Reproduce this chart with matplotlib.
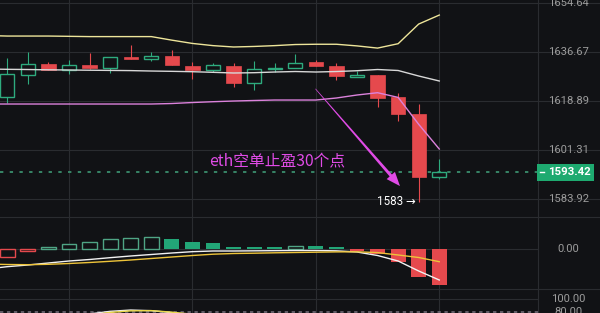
import numpy as np
import matplotlib
matplotlib.use("Agg")
import matplotlib.pyplot as plt
from matplotlib.patches import Rectangle, Polygon
from matplotlib.lines import Line2D
from matplotlib.ticker import NullLocator
from matplotlib.transforms import blended_transform_factory

# ---------------- ETH/USDT 15m candles ----------------
opens  = [1620.23, 1628.19, 1632.30, 1630.12, 1631.93, 1630.73, 1634.85, 1634.23,
          1635.21, 1631.68, 1629.94, 1631.68, 1625.58, 1630.37, 1630.73, 1632.92,
          1631.57, 1627.58, 1628.19, 1620.23, 1614.21, 1591.60]
highs  = [1634.48, 1636.78, 1633.03, 1633.65, 1636.41, 1634.74, 1639.23, 1636.78,
          1637.40, 1633.03, 1632.77, 1632.66, 1633.39, 1632.77, 1635.83, 1633.75,
          1632.77, 1629.86, 1628.19, 1621.85, 1617.81, 1597.98]
lows   = [1618.17, 1624.93, 1630.12, 1628.67, 1630.48, 1629.14, 1634.12, 1633.39,
          1631.82, 1626.74, 1629.50, 1624.06, 1622.87, 1629.39, 1630.73, 1631.46,
          1626.49, 1627.58, 1616.84, 1611.80, 1583.00, 1591.00]
closes = [1628.67, 1632.30, 1630.12, 1631.93, 1630.95, 1634.74, 1634.12, 1635.21,
          1631.82, 1629.94, 1632.12, 1625.47, 1630.48, 1630.95, 1632.77, 1631.46,
          1627.94, 1628.19, 1620.09, 1614.10, 1591.60, 1593.42]

# indicator series start one bar before the first visible candle
boll_upper = [1642.7, 1642.5, 1642.5, 1642.5, 1642.4, 1642.3, 1642.3, 1642.3,
              1642.3, 1641.0, 1639.8, 1639.0, 1638.5, 1638.7, 1639.0, 1639.4,
              1639.5, 1639.5, 1638.9, 1638.1, 1639.7, 1646.9, 1650.2]
boll_mid   = [1630.48, 1630.37, 1630.30, 1630.19, 1630.12, 1630.04, 1629.97, 1629.90,
              1629.75, 1629.64, 1629.50, 1629.28, 1629.03, 1629.14, 1629.39, 1629.57,
              1629.39, 1629.57, 1629.86, 1630.30, 1629.94, 1627.94, 1626.13]
boll_lower = [1617.81, 1617.81, 1617.81, 1617.81, 1617.81, 1617.81, 1617.81, 1617.81,
              1617.81, 1617.99, 1618.35, 1618.64, 1618.89, 1619.08, 1619.25, 1619.25,
              1619.25, 1619.98, 1621.06, 1621.89, 1620.20, 1610.50, 1601.67]

macd_dif  = [-6.0, -5.3, -4.8, -4.2, -3.6, -3.15, -2.6, -2.1, -1.65, -1.2, -0.8, -0.6,
             -0.6, -0.55, -0.5, -0.45, -0.45, -0.55, -0.9, -1.95, -3.6, -6.6, -9.3]
macd_dea  = [-4.5, -4.65, -4.71, -4.59, -4.35, -4.05, -3.69, -3.3, -2.85, -2.4, -1.95,
             -1.56, -1.35, -1.26, -1.14, -1.05, -0.96, -0.87, -0.84, -1.08, -1.8,
             -2.55, -3.81]
macd_hist = [-3.2, -2.4, -0.6, 0.6, 1.4, 2.0, 2.9, 3.3, 3.5, 2.9, 2.0, 1.7, 0.6, 0.6,
             0.6, 0.9, 0.9, 0.6, -0.6, -1.5, -3.8, -8.5, -10.8]

kdj_k = [55, 58, 62, 66, 72, 77.5, 81.5, 83.5, 82.5, 79.5, 74, 68, 62, 58, 56, 55,
         54, 50, 42, 30, 18, 9, 12]
kdj_d = [52, 54, 57, 61, 70, 75.5, 79.8, 82.2, 82.6, 80.2, 77, 71, 66, 61, 58, 56,
         55, 53, 48, 40, 30, 20, 15]

price_ticks = [1654.64, 1636.67, 1618.89, 1601.31, 1583.92]
time_grid = [3, 9, 15, 21]
note_text = "eth空单止盈30个点"

# ---------------- styling / layout ----------------
W, H, DPI = 600, 313, 100
BG = "#111215"
GRID = "#2a2c30"
GREEN = "#2eab7e"
GREEN_FILL = "#22a677"
RED = "#e5494d"
LABEL = "#9c9c9c"
MAGENTA = "#e04be6"

X0_PX, STEP_PX = 7.3, 20.57
PLOT_RIGHT_PX = 537.7
LABEL_CX = 568.5 / W
XLIM = (-X0_PX / STEP_PX, (W - X0_PX) / STEP_PX)
BORDER_X = (PLOT_RIGHT_PX - X0_PX) / STEP_PX
PANEL_FRAC = PLOT_RIGHT_PX / W

plt.rcParams["font.family"] = ["Roboto", "DejaVu Sans"]

fig = plt.figure(figsize=(W / DPI, H / DPI), dpi=DPI)
fig.patch.set_facecolor(BG)


def panel(top_px, bottom_px):
    ax = fig.add_axes([0, 1 - bottom_px / H, 1, (bottom_px - top_px) / H])
    ax.set_facecolor(BG)
    ax.set_xlim(*XLIM)
    for s in ax.spines.values():
        s.set_visible(False)
    for t in time_grid:
        ax.axvline(t, color=GRID, lw=0.8, zorder=0)
    ax.axvline(BORDER_X, color=GRID, lw=0.8, zorder=0)
    return ax


def clear_ticks(ax):
    ax.xaxis.set_major_locator(NullLocator())
    ax.xaxis.set_minor_locator(NullLocator())
    ax.yaxis.set_major_locator(NullLocator())
    ax.yaxis.set_minor_locator(NullLocator())


def axis_label(ax, value, text, **kw):
    tr = blended_transform_factory(ax.transAxes, ax.transData)
    ax.text(LABEL_CX, value, text, transform=tr, ha="center", va="center",
            fontsize=8.1, color=LABEL, zorder=6, **kw)


xc = np.arange(len(opens))
xi = np.arange(-1, len(opens))

# ---------------- main price panel ----------------
ax = panel(0, 216.5)
ax.set_yscale("log")
ax.set_ylim(1577.76, 1655.75)
clear_ticks(ax)
for v in price_ticks:
    ax.axhline(v, color=GRID, lw=0.8, zorder=0)
    axis_label(ax, v, f"{v:.2f}")

W_BODY = 0.70
for i in xc:
    o, h, l, c = opens[i], highs[i], lows[i], closes[i]
    up = c >= o
    col = GREEN if up else RED
    ax.vlines(i, l, h, color=col, lw=0.8, zorder=2)
    lo, hi = min(o, c), max(o, c)
    if up:
        ax.add_patch(Rectangle((i - W_BODY / 2, lo), W_BODY, hi - lo,
                               facecolor=BG, edgecolor=col, lw=1.0, zorder=3))
    else:
        ax.add_patch(Rectangle((i - W_BODY / 2, lo), W_BODY, hi - lo,
                               facecolor=col, edgecolor=col, lw=0.5, zorder=3))

ax.plot(xi, boll_upper, color="#eee59a", lw=1.0, zorder=4)
ax.plot(xi, boll_mid, color="#d8d8d8", lw=1.0, zorder=4)
ax.plot(xi, boll_lower, color="#dc82dc", lw=1.0, zorder=4)

# last-price dashed line
last = closes[-1]
ax.plot([XLIM[0], BORDER_X], [last, last], color="#3b8f6d", lw=1.3,
        linestyle=(0, (2.4 / 1.3, 4.6 / 1.3)), zorder=1)

# lowest print marker
i_low = int(np.argmin(lows))
ax.text(i_low - 0.15, lows[i_low], f"{lows[i_low]:.0f} →", ha="right", va="center",
        fontsize=8.4, color="white", zorder=6)

# note and arrow
ax.text(9.8, 1597.2, note_text, ha="left", va="center", fontsize=11.3,
        color=MAGENTA, family=["Noto Sans CJK SC", "DejaVu Sans"], zorder=6)


def tapered_arrow(ax, xy_from, xy_to, color, w0=0.6, w1=3.0, head_len=14.0,
                  head_half=5.5):
    p0 = ax.transData.transform(xy_from)
    p1 = ax.transData.transform(xy_to)
    d = p1 - p0
    u = d / np.hypot(*d)
    n = np.array([-u[1], u[0]])
    base = p1 - u * head_len
    pts = np.array([p0 + n * w0 / 2, base + n * w1 / 2, base + n * head_half, p1,
                    base - n * head_half, base - n * w1 / 2, p0 - n * w0 / 2])
    ax.add_patch(Polygon(ax.transData.inverted().transform(pts), closed=True,
                         facecolor=color, edgecolor="none", zorder=6))


tapered_arrow(ax, (14.98, 1623.3), (19.09, 1588.5), MAGENTA)

# ---------------- MACD panel ----------------
axm = panel(216.5, 289.3)
axm.set_ylim(-12.09, 9.75)
clear_ticks(axm)
axm.plot([XLIM[0], BORDER_X], [0, 0], color=GRID, lw=0.8, zorder=0)
axis_label(axm, 0, "0.00")

prev = None
for x, v in zip(xi, macd_hist):
    col = GREEN if v >= 0 else RED
    hollow = prev is not None and v > prev
    if hollow:
        axm.bar(x, v, width=0.72, facecolor=BG, edgecolor=col if v < 0 else "#4fa585",
                lw=1.0, zorder=2)
    else:
        axm.bar(x, v, width=0.72, facecolor=GREEN_FILL if v >= 0 else RED,
                edgecolor="none", zorder=2)
    prev = v

axm.plot(xi, macd_dif, color="#f2f2f2", lw=1.0, zorder=4)
axm.plot(xi, macd_dea, color="#eec43a", lw=1.0, zorder=4)

# ---------------- KDJ panel ----------------
axk = panel(289.3, 313)
axk.set_ylim(78.92, 115.4)
clear_ticks(axk)
axk.plot([XLIM[0], BORDER_X], [100, 100], color=GRID, lw=0.8, zorder=0)
axk.plot([XLIM[0], BORDER_X], [80, 80], color="#6f6a76", lw=1.2,
         linestyle=(0, (2.4 / 1.2, 2.6 / 1.2)), zorder=1)
axis_label(axk, 100, "100.00")
axis_label(axk, 80, "80.00")
axk.plot(xi, kdj_k, color="#ececec", lw=1.0, zorder=4)
axk.plot(xi, kdj_d, color="#ead84a", lw=1.0, zorder=4)

# panel separators
for y_px in (216.5, 289.3):
    fig.add_artist(Line2D([0, 1], [1 - y_px / H] * 2, transform=fig.transFigure,
                          color=GRID, lw=0.8, zorder=1))

# ---------------- last-price tag ----------------
yc = ax.transData.transform((0, last))[1]
box_h = 17.2
fig.add_artist(Rectangle((537.0 / W, (yc - box_h / 2) / H), (594.0 - 537.0) / W,
                         box_h / H, transform=fig.transFigure, facecolor="#1eaa70",
                         edgecolor="none", zorder=5))
fig.add_artist(Line2D([539.5 / W, 544.0 / W], [yc / H, yc / H], transform=fig.transFigure,
                      color="white", lw=1.0, zorder=6))
fig.text(569.0 / W, yc / H, f"{last:.2f}", ha="center", va="center", fontsize=8.2,
         fontweight="bold", color="white", zorder=7)

fig.savefig("out.png", dpi=DPI, facecolor=BG)
